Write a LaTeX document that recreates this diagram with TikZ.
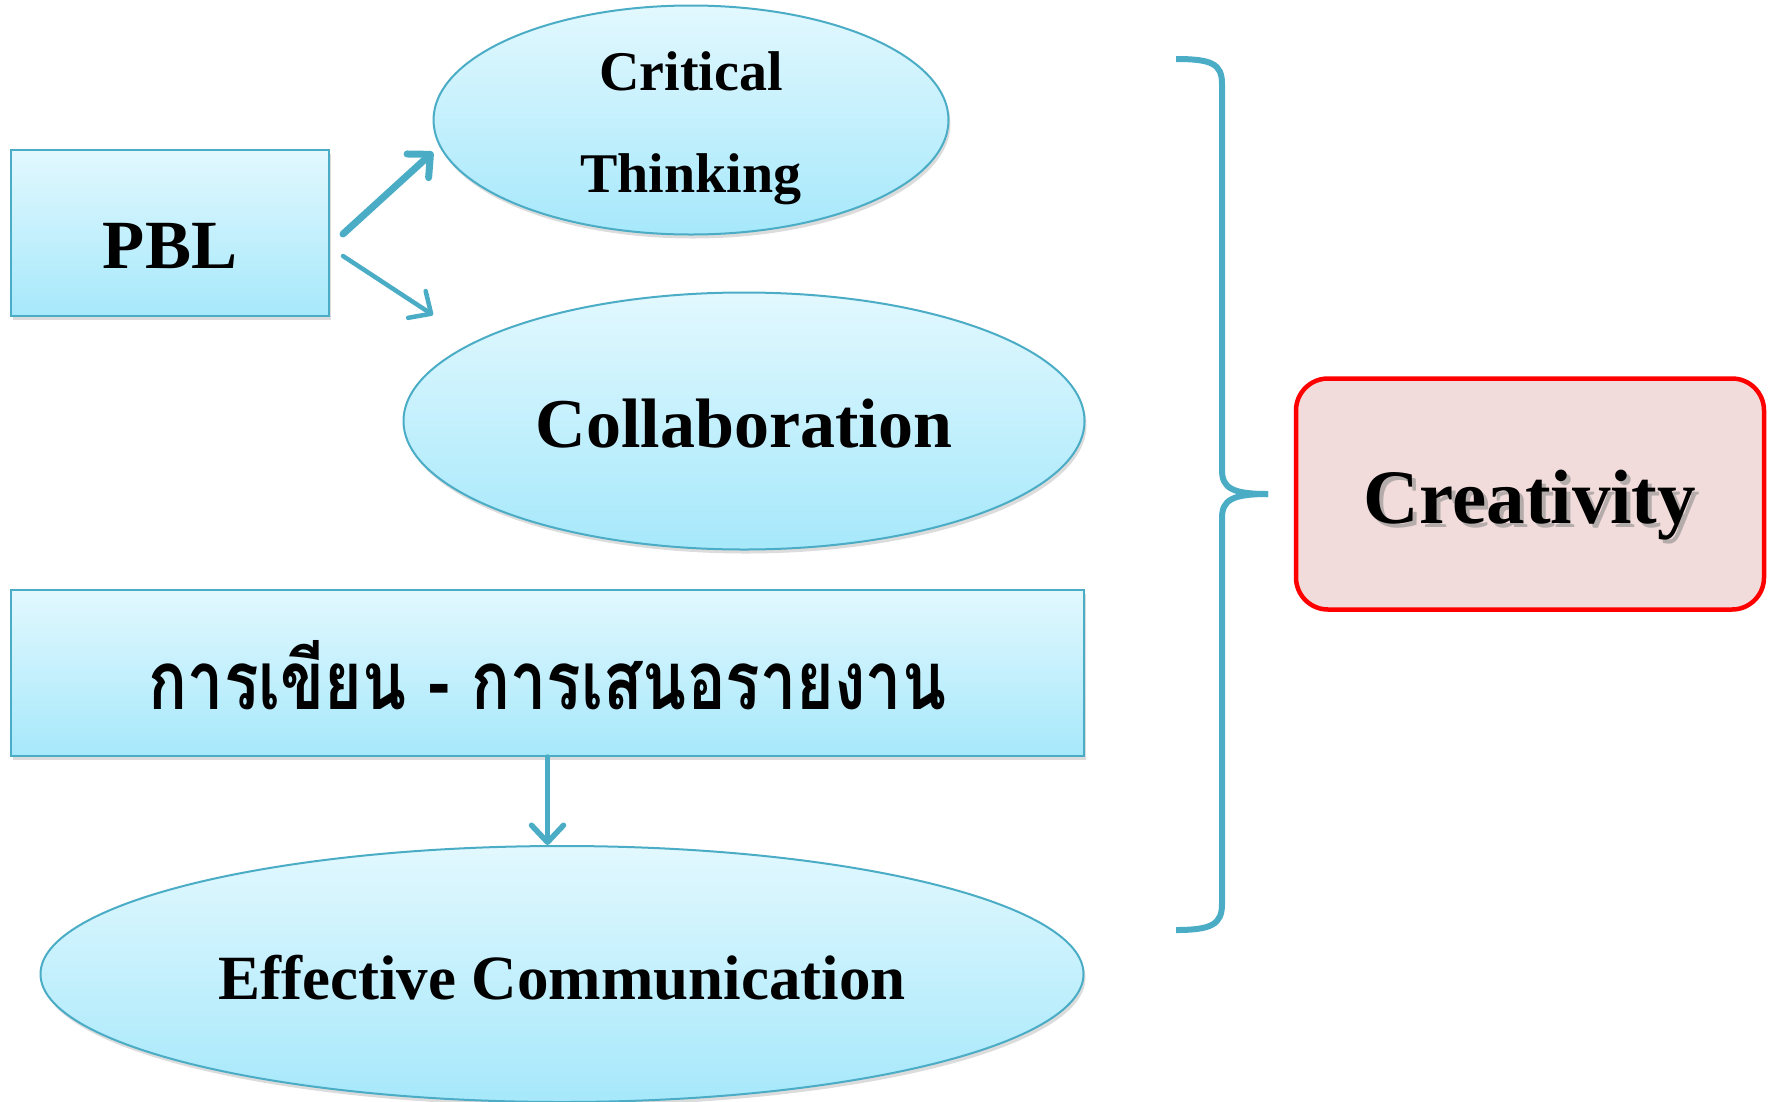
\documentclass[tikz,border=0pt]{standalone}
\usepackage{fontspec}
\setmainfont{Liberation Serif}
\newfontfamily\thaifont[Script=Thai]{Loma}
\usetikzlibrary{shapes.geometric,arrows.meta,shadows,calc}
\definecolor{acc}{HTML}{4BACC6}
\definecolor{topc}{HTML}{E2F8FE}
\definecolor{botc}{HTML}{A6E8FB}
\definecolor{crfill}{HTML}{F2DCDB}
\definecolor{crline}{HTML}{FF0000}
\begin{document}
\begin{tikzpicture}[x=1pt,y=-1pt,
  bluefill/.style={draw=acc,line width=2pt,top color=topc,bottom color=botc,inner sep=0pt,
    drop shadow={shadow xshift=2pt,shadow yshift=-4pt,opacity=0.28}},
  bluerect/.style={bluefill,rectangle},
  blueell/.style={bluefill,ellipse},
  lbl/.style={anchor=base,inner sep=0pt},
  arr/.style={draw=acc,line cap=round,-{Straight Barb[length=17pt,width=32pt,round]}},
  bracestyle/.style={draw=acc,line width=6pt}
]
\useasboundingbox (0,0) rectangle (1771,1101);

% shapes
\node[bluerect,minimum width=318pt,minimum height=166pt] (pbl) at (170,233) {};
\node[blueell,minimum width=515pt,minimum height=229pt] (crit) at (691,120) {};
\node[blueell,minimum width=681pt,minimum height=257pt] (coll) at (744,421) {};
\node[bluerect,minimum width=1073pt,minimum height=166pt] (thai) at (547.5,673) {};
\node[blueell,minimum width=1043pt,minimum height=256pt] (eff) at (562,974) {};
\node[draw=crline,line width=4.5pt,fill=crfill,rounded corners=32pt,
  minimum width=468pt,minimum height=231pt,inner sep=0pt] (crea) at (1530,494) {};

% texts
\node[lbl,font=\fontsize{69}{80}\selectfont\bfseries] (pbltxt) at ($(pbl.center)+(0,35)$) {PBL};
\node[lbl,font=\fontsize{56}{64}\selectfont\bfseries] (crittxt1) at ($(crit.center)+(0,-30)$) {Critical};
\node[lbl,font=\fontsize{56}{64}\selectfont\bfseries] (crittxt2) at ($(crit.center)+(0,72)$) {Thinking};
\node[lbl,font=\fontsize{70}{80}\selectfont\bfseries] (colltxt) at ($(coll.center)+(0,26)$) {Collaboration};
\node[lbl] (thaitxt) at ($(thai.center)+(0,36)$)
  {\resizebox{797pt}{69pt}{\thaifont\bfseries การเขียน - การเสนอรายงาน}};
\node[lbl,font=\fontsize{63}{72}\selectfont\bfseries] (efftxt) at ($(eff.center)+(0,25)$) {Effective Communication};
\node[lbl,text=black!45,opacity=0.6,font=\fontsize{77}{88}\selectfont\bfseries] (creash)
  at ($(crea.center)+(4,33)$) {Creativity};
\node[lbl,font=\fontsize{77}{88}\selectfont\bfseries] (creatxt) at ($(crea.center)+(0,29)$) {Creativity};

% arrows
\coordinate (a1s) at ($(pbl.east)+(13,1)$);
\coordinate (a1e) at (433,152);
\coordinate (a2s) at ($(pbl.east)+(13,23)$);
\coordinate (a2e) at (433,315);
\draw[arr,line width=7pt] (a1s) -- (a1e);
\draw[arr,line width=4.5pt] (a2s) -- (a2e);
\draw[arr,line width=5.5pt] (thai.south) -- (thai.south |- eff.north);

% brace
\coordinate (bt) at (1176,59);
\coordinate (bm) at (1268,494);
\coordinate (bb) at (1176,930);
\draw[bracestyle] (bt) .. controls (1212,59) and (1222,64) .. (1222,84)
  -- (1222,470) .. controls (1222,488) and (1232,494) .. (bm);
\draw[bracestyle] (bm) .. controls (1232,494) and (1222,500) .. (1222,518)
  -- (1222,904) .. controls (1222,924) and (1212,930) .. (bb);
\end{tikzpicture}
\end{document}
